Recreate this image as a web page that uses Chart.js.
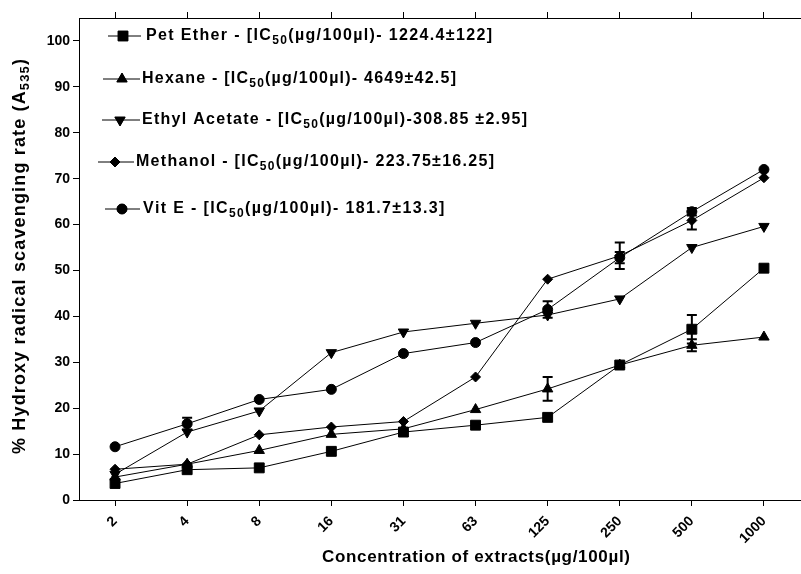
<!DOCTYPE html>
<html>
<head>
<meta charset="utf-8">
<script src="https://cdn.jsdelivr.net/npm/chart.js@4.4.1/dist/chart.umd.min.js"></script>
<style>
    html, body { margin: 0; padding: 0; background: #fff; overflow: hidden; }
    #wrap { width: 801px; height: 574px; overflow: hidden; }
</style>
</head>
<body>
<div id="wrap"><canvas id="scavChart" width="808" height="574"></canvas></div>
<script>
// Hydroxyl radical scavenging - concentration vs % scavenging

const concentrations = ['2', '4', '8', '16', '31', '63', '125', '250', '500', '1000'];

const petEther = [3.6, 6.6, 7.0, 10.6, 14.8, 16.3, 18.0, 29.4, 37.2, 50.5];
const hexane   = [5.0, 7.8, 10.8, 14.3, 15.5, 19.7, 24.2, 29.4, 33.7, 35.5];
const ethylAc  = [5.6, 14.8, 19.4, 32.1, 36.6, 38.5, 40.3, 43.8, 55.0, 59.6];
const methanol = [6.7, 7.8, 14.2, 15.9, 17.1, 26.8, 48.1, 53.2, 60.9, 70.2];
const vitE     = [11.6, 16.6, 21.9, 24.1, 31.9, 34.3, 41.5, 52.8, 62.8, 72.0];

// error bar half-heights (0 = not visible)
const petEtherErr = [0, 0, 0, 0, 0, 0, 0, 0, 3.1, 0];
const hexaneErr   = [0, 0, 0, 0, 0, 0, 2.6, 0, 1.3, 0];
const ethylAcErr  = [0, 0, 0, 0, 0, 0, 0, 0, 0, 0];
const methanolErr = [0, 0, 0, 0, 0, 0, 0, 2.9, 2.0, 0];
const vitEErr     = [0, 1.3, 0, 0, 0, 0, 1.8, 1.2, 0.8, 0];

const yTicks = [0, 10, 20, 30, 40, 50, 60, 70, 80, 90, 100];

const FONT = '"Liberation Sans", Arial, Helvetica, sans-serif';

// legend rows: label parts ([text, isSubscript]), marker + line geometry, text box
const legendRows = [
    { parts: [['Pet Ether - [IC'], ['50', 1], ['(µg/100µl)- 1224.4±122]']], style: 'rect', radius: 7, rot: 0, l: 108, m: 123, r: 141, y: 36, tx: 146, tw: 346 },
    { parts: [['Hexane - [IC'], ['50', 1], ['(µg/100µl)- 4649±42.5]']], style: 'triangle', radius: 6, rot: 0, l: 103, m: 122, r: 140, y: 79, tx: 142, tw: 314 },
    { parts: [['Ethyl Acetate - [IC'], ['50', 1], ['(µg/100µl)-308.85 ±2.95]']], style: 'triangle', radius: 6, rot: 180, l: 102, m: 120, r: 140, y: 120, tx: 142, tw: 385 },
    { parts: [['Methanol - [IC'], ['50', 1], ['(µg/100µl)- 223.75±16.25]']], style: 'rectRot', radius: 5, rot: 0, l: 98, m: 115, r: 134, y: 162, tx: 136, tw: 358 },
    { parts: [['Vit E - [IC'], ['50', 1], ['(µg/100µl)- 181.7±13.3]']], style: 'circle', radius: 5, rot: 0, l: 105, m: 122, r: 140, y: 209, tx: 143, tw: 301 }
];

// draw text char by char, stretched to a target width, with subscript parts
function drawRich(ctx, parts, x, y, size, targetWidth) {
    const mainFont = `bold ${size}px ${FONT}`;
    const subFont = `bold ${Math.round(size * 0.72)}px ${FONT}`;
    let natural = 0, count = 0;
    parts.forEach(p => {
        ctx.font = p[1] ? subFont : mainFont;
        natural += ctx.measureText(p[0]).width;
        count += p[0].length;
    });
    const spacing = targetWidth ? (targetWidth - natural) / Math.max(count - 1, 1) : 0;
    let cx = x;
    ctx.textBaseline = 'middle';
    ctx.textAlign = 'left';
    parts.forEach(p => {
        ctx.font = p[1] ? subFont : mainFont;
        const dy = p[1] ? size * 0.32 : 0;
        for (const ch of p[0]) {
            ctx.fillText(ch, cx, y + dy);
            cx += ctx.measureText(ch).width + spacing;
        }
    });
}

const annotatePlugin = {
    id: 'annotate',
    afterDatasetsDraw(chart) {
        const ctx = chart.ctx;
        const xs = chart.scales.x;
        const ys = chart.scales.y;

        // error bars
        ctx.save();
        ctx.strokeStyle = '#000';
        ctx.lineWidth = 2;
        chart.data.datasets.forEach(ds => {
            ds.errors.forEach((e, i) => {
                if (!e) return;
                const px = xs.getPixelForValue(i);
                const top = ys.getPixelForValue(ds.data[i] + e);
                const bot = ys.getPixelForValue(ds.data[i] - e);
                ctx.beginPath();
                ctx.moveTo(px, top); ctx.lineTo(px, bot);
                ctx.moveTo(px - 5, top); ctx.lineTo(px + 5, top);
                ctx.moveTo(px - 5, bot); ctx.lineTo(px + 5, bot);
                ctx.stroke();
            });
        });
        ctx.restore();

        // legend inside the plot
        ctx.save();
        ctx.fillStyle = '#000';
        ctx.strokeStyle = '#000';
        legendRows.forEach(row => {
            ctx.lineWidth = 1;
            ctx.beginPath();
            ctx.moveTo(row.l, row.y); ctx.lineTo(row.r, row.y);
            ctx.stroke();
            Chart.helpers.drawPoint(ctx, { pointStyle: row.style, radius: row.radius, rotation: row.rot, borderWidth: 1 }, row.m, row.y);
            ctx.fill();
            drawRich(ctx, row.parts, row.tx, row.y, 16, row.tw);
        });

        // axis titles
        drawRich(ctx, [['Concentration of extracts(µg/100µl)']], 322, 557, 17, 308);
        ctx.translate(20, 257);
        ctx.rotate(-Math.PI / 2);
        drawRich(ctx, [['% Hydroxy radical scavenging rate (A'], ['535', 1], [')']], -197, 0, 18, 395);
        ctx.restore();
    }
};

function makeSet(label, data, errors, style, radius, rotation) {
    return {
        label,
        data,
        errors,
        borderColor: '#000',
        backgroundColor: '#000',
        borderWidth: 1,
        pointStyle: style,
        pointRadius: radius,
        pointRotation: rotation,
        pointBackgroundColor: '#000',
        pointBorderColor: '#000',
        pointBorderWidth: 1,
        tension: 0,
        fill: false
    };
}

const axisGrid = { drawOnChartArea: false, color: '#000', tickLength: 6, tickWidth: 1 };
const axisBorder = { display: true, color: '#000', width: 1 };

new Chart(document.getElementById('scavChart'), {
    type: 'line',
    data: {
        labels: concentrations,
        datasets: [
            makeSet('Pet Ether', petEther, petEtherErr, 'rect', 7, 0),
            makeSet('Hexane', hexane, hexaneErr, 'triangle', 6, 0),
            makeSet('Ethyl Acetate', ethylAc, ethylAcErr, 'triangle', 6, 180),
            makeSet('Methanol', methanol, methanolErr, 'rectRot', 5, 0),
            makeSet('Vit E', vitE, vitEErr, 'circle', 5, 0)
        ]
    },
    options: {
        responsive: false,
        animation: false,
        layout: { padding: { left: 0, right: 1, top: 0, bottom: 0 } },
        plugins: {
            legend: { display: false },
            tooltip: { enabled: false }
        },
        scales: {
            x: {
                type: 'category',
                offset: true,
                grid: axisGrid,
                border: axisBorder,
                ticks: {
                    color: '#000',
                    font: { family: FONT, size: 14, weight: 'bold' },
                    minRotation: 45,
                    maxRotation: 45,
                    padding: 7
                },
                afterFit: s => { s.height = 74; }
            },
            x2: {
                type: 'category',
                position: 'top',
                offset: true,
                labels: concentrations,
                grid: axisGrid,
                border: axisBorder,
                ticks: { display: false },
                afterFit: s => { s.height = 18; }
            },
            y: {
                min: 0,
                max: 105,
                grid: axisGrid,
                border: axisBorder,
                ticks: {
                    stepSize: 10,
                    color: '#000',
                    padding: 3,
                    font: { family: FONT, size: 14, weight: 'bold' }
                },
                afterBuildTicks: s => { s.ticks = yTicks.map(v => ({ value: v })); },
                afterFit: s => { s.width = 79; }
            }
        }
    },
    plugins: [annotatePlugin]
});
</script>
</body>
</html>
